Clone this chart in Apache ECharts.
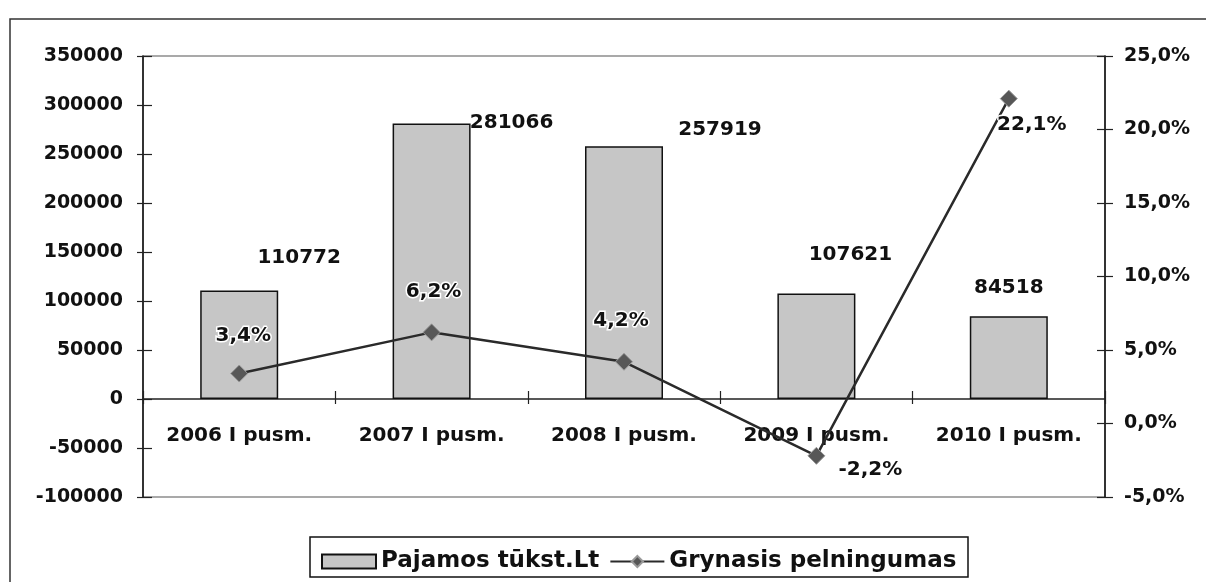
<!DOCTYPE html>
<html>
<head>
<meta charset="utf-8">
<script src="https://cdn.jsdelivr.net/npm/echarts@6/dist/echarts.min.js"></script>
<style>html,body{margin:0;padding:0;background:#fff;}#c{width:1206px;height:582px;}</style>
</head>
<body>
<div id="c"></div>
<script>
// ---- data ----
const categories = ['2006 I pusm.', '2007 I pusm.', '2008 I pusm.', '2009 I pusm.', '2010 I pusm.'];
const revenue = [110772, 281066, 257919, 107621, 84518];
const profitability = [3.4, 6.2, 4.2, -2.2, 22.1];
const seriesNames = ['Pajamos tūkst.Lt', 'Grynasis pelningumas'];
const leftAxis = { min: -100000, max: 350000, interval: 50000 };
const rightAxis = { min: -5, max: 25, interval: 5 };

// ---- label layout (styling, not data) ----
const barLabelOffsets = [[60, -18], [80, 14], [96, -1], [34, -24], [0, -13]];
const lineLabelOffsets = [[4, -14], [2, -17], [-3, -17], [54, 38], [23, 50]];

const FONT = 'DejaVu Sans, Verdana, sans-serif';
const pct = v => v.toFixed(1).replace('.', ',') + '%';

const chart = echarts.init(document.getElementById('c'), null, { renderer: 'canvas' });

const barData = revenue.map((v, i) => ({ value: v, label: { offset: barLabelOffsets[i] } }));
const lineData = profitability.map((v, i) => ({ value: v, label: { offset: lineLabelOffsets[i] } }));

const option = {
  backgroundColor: '#ffffff',
  animation: false,
  graphic: [
    { type: 'rect', shape: { x: 10, y: 19, width: 1220, height: 600 }, style: { fill: 'none', stroke: '#333', lineWidth: 1.5 }, z: -1 },
    { type: 'rect', shape: { x: 310, y: 537, width: 658, height: 40 }, style: { fill: '#fff', stroke: '#111', lineWidth: 1.5 }, z: 0 }
  ],
  grid: { left: 143, right: 101, top: 56, height: 441, show: true, borderColor: '#555', borderWidth: 1.2, backgroundColor: 'transparent' },
  legend: {
    left: 316, top: 545, z: 10,
    itemWidth: 54, itemHeight: 14, itemGap: 10,
    textStyle: { fontFamily: FONT, fontSize: 23, fontWeight: 'bold', color: '#111' },
    data: [{ name: seriesNames[0], icon: 'rect' }, { name: seriesNames[1] }]
  },
  xAxis: [
    {
      // category labels (drawn just below the zero line)
      type: 'category', data: categories, position: 'bottom',
      axisLine: { show: false, onZero: false },
      axisTick: { show: false },
      axisLabel: { margin: -71, fontFamily: FONT, fontSize: 20, fontWeight: 'bold', color: '#111' },
      splitLine: { show: false }
    },
    {
      type: 'category', data: categories, position: 'bottom',
      axisLine: { show: true, onZero: true, onZeroAxisIndex: 0, lineStyle: { color: '#222', width: 1.5 } },
      axisTick: { show: true, length: 5, lineStyle: { color: '#222', width: 1.2 } },
      axisLabel: { show: false }, splitLine: { show: false }
    },
    {
      type: 'category', data: categories, position: 'bottom',
      axisLine: { show: false, onZero: true, onZeroAxisIndex: 0 },
      axisTick: { show: true, inside: true, length: 8, lineStyle: { color: '#222', width: 1.2 } },
      axisLabel: { show: false }, splitLine: { show: false }
    }
  ],
  yAxis: [
    {
      type: 'value', position: 'left', min: leftAxis.min, max: leftAxis.max, interval: leftAxis.interval,
      axisLine: { show: true, onZero: false, lineStyle: { color: '#111', width: 1.5 } },
      axisTick: { show: true, length: 6, lineStyle: { color: '#222', width: 1.2 } },
      axisLabel: { margin: 20, fontFamily: FONT, fontSize: 19, fontWeight: 'bold', color: '#111', formatter: v => String(v) },
      splitLine: { show: false }
    },
    {
      type: 'value', position: 'right', min: rightAxis.min, max: rightAxis.max, interval: rightAxis.interval,
      axisLine: { show: true, onZero: false, lineStyle: { color: '#111', width: 1.5 } },
      axisTick: { show: true, length: 8, lineStyle: { color: '#222', width: 1.2 } },
      axisLabel: { margin: 19, fontFamily: FONT, fontSize: 19, fontWeight: 'bold', color: '#111', formatter: pct },
      splitLine: { show: false }
    },
    {
      type: 'value', position: 'left', min: leftAxis.min, max: leftAxis.max, interval: leftAxis.interval,
      axisLine: { show: false }, axisTick: { show: true, inside: true, length: 9, lineStyle: { color: '#222', width: 1.2 } },
      axisLabel: { show: false }, splitLine: { show: false }
    },
    {
      type: 'value', position: 'right', min: rightAxis.min, max: rightAxis.max, interval: rightAxis.interval,
      axisLine: { show: false }, axisTick: { show: true, inside: true, length: 8, lineStyle: { color: '#222', width: 1.2 } },
      axisLabel: { show: false }, splitLine: { show: false }
    }
  ],
  series: [
    {
      name: seriesNames[0], type: 'bar', xAxisIndex: 0, yAxisIndex: 0,
      data: barData, barWidth: 78,
      itemStyle: { color: '#c6c6c6', borderColor: '#111', borderWidth: 1.5 },
      label: { show: true, position: 'top', distance: 5, fontFamily: FONT, fontSize: 20, fontWeight: 'bold', color: '#111' },
      z: 2
    },
    {
      name: seriesNames[1], type: 'line', xAxisIndex: 0, yAxisIndex: 1,
      data: lineData,
      lineStyle: { color: '#2a2a2a', width: 2.5 },
      symbol: 'diamond', symbolSize: 17,
      itemStyle: { color: '#575757', borderColor: '#999', borderWidth: 1 },
      label: {
        show: true, position: 'top', distance: 5,
        fontFamily: FONT, fontSize: 20, fontWeight: 'bold', color: '#111',
        textBorderColor: '#fff', textBorderWidth: 3,
        formatter: p => pct(p.value)
      },
      z: 5
    }
  ]
};

chart.setOption(option);
</script>
</body>
</html>
